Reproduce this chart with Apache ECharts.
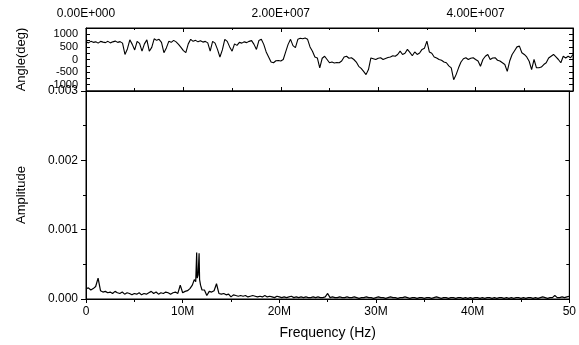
<!DOCTYPE html>
<html>
<head>
<meta charset="utf-8">
<script src="https://cdn.jsdelivr.net/npm/echarts@6/dist/echarts.min.js"></script>
<style>
  html, body { margin: 0; padding: 0; background: #fff; }
  #chart { width: 579px; height: 345px; }
</style>
</head>
<body>
<div id="chart"></div>
<script>
// 频率步长 0.25 MHz, 0 ~ 50 MHz
var freqStepMHz = 0.25;
var freqCount = 201;

// 相位 (deg)，每行 5 MHz
var angleDeg = [
  700, 660, 720, 680, 700, 650, 720, 690, 670, 720, 660, 700, 730, 680, 710, 650, 200, 420, 780, 600,
  380, 720, 640, 330, 620, 780, 330, 480, 820, 760, 800, 680, 270, 460, 720, 680, 760, 700, 600, 480,
  350, 270, 620, 800, 720, 760, 700, 740, 690, 720, 660, 330, 720, 650, 400, 100, 380, 800, 720, 500,
  330, 620, 560, 680, 650, 700, 670, 720, 750, 600, 400, 750, 800, 600, 300, 100, -100, -130, -50, -40,
  -60, 0, 300, 600, 800, 550, 470, 800, 840, 820, 850, 800, 500, 330, 100, 60, -330, 50, 130, 0,
  -130, -100, -140, -120, -130, -60, 100, 130, 50, 70, 0, -100, -270, -350, -470, -600, -400, 60, 30, 0,
  50, 70, 0, 40, 80, 100, 150, 130, 200, 330, 200, 250, 400, 280, 150, 300, 200, 260, 400, 450,
  730, 300, 250, 100, 60, 0, -30, -100, -130, -250, -330, -800, -600, -330, -100, 30, 70, 0, 50, 70,
  0, -60, -270, 0, 130, 200, 0, 60, 70, -30, -60, -130, -200, -470, -60, 200, 350, 500, 530, 270,
  200, 100, -70, -400, 0, -330, -330, -300, -200, -130, 60, 130, 200, 100, 0, -130, 130, 60, 130, 70,
  200
];

// 幅值，每行 5 MHz
var amplitude = [
  0.00015, 0.00016, 0.00013, 0.00015, 0.00018, 0.00030, 0.00012, 0.00010, 0.00011, 0.00009, 0.00010, 0.00008, 0.00011, 0.00009, 0.00008, 0.00010, 0.00007, 0.00009, 0.00008, 0.00006,
  0.00008, 0.00007, 0.00009, 0.00006, 0.00008, 0.00007, 0.00009, 0.00011, 0.00008, 0.00010, 0.00007, 0.00009, 0.00008, 0.00010, 0.00009, 0.00007, 0.00009, 0.00010, 0.00008, 0.00020,
  0.00009, 0.00011, 0.00012, 0.00015, 0.00023, 0.00030, 0.00066, 0.00064, 0.00014, 0.00013, 0.00005, 0.00011, 0.00010, 0.00012, 0.00022, 0.00008, 0.00007, 0.00008, 0.00006, 0.00007,
  0.00003, 0.00006, 0.00005, 0.00004, 0.00005, 0.00004, 0.00005, 0.00003, 0.00004, 0.00005, 0.00004, 0.00003, 0.00004, 0.00003, 0.00005, 0.00003, 0.00004, 0.00003, 0.00002, 0.00004,
  0.00003, 0.00002, 0.00003, 0.00002, 0.00003, 0.00004, 0.00002, 0.00003, 0.00002, 0.00003, 0.00002, 0.00003, 0.00002, 0.00002, 0.00003, 0.00002, 0.00003, 0.00002, 0.00002, 0.00003,
  0.00008, 0.00002, 0.00003, 0.00002, 0.00002, 0.00003, 0.00002, 0.00002, 0.00003, 0.00002, 0.00002, 0.00003, 0.00002, 0.00001, 0.00002, 0.00002, 0.00003, 0.00002, 0.00002, 0.00001,
  0.00002, 0.00003, 0.00002, 0.00002, 0.00001, 0.00002, 0.00003, 0.00002, 0.00002, 0.00001, 0.00002, 0.00002, 0.00003, 0.00002, 0.00001, 0.00002, 0.00002, 0.00001, 0.00002, 0.00002,
  0.00001, 0.00002, 0.00002, 0.00001, 0.00002, 0.00003, 0.00002, 0.00001, 0.00002, 0.00002, 0.00001, 0.00002, 0.00002, 0.00001, 0.00002, 0.00002, 0.00001, 0.00002, 0.00001, 0.00002,
  0.00001, 0.00002, 0.00002, 0.00001, 0.00002, 0.00001, 0.00002, 0.00002, 0.00001, 0.00002, 0.00001, 0.00002, 0.00002, 0.00001, 0.00002, 0.00001, 0.00002, 0.00001, 0.00002, 0.00002,
  0.00001, 0.00002, 0.00001, 0.00002, 0.00002, 0.00001, 0.00002, 0.00001, 0.00002, 0.00003, 0.00002, 0.00001, 0.00002, 0.00002, 0.00005, 0.00002, 0.00002, 0.00003, 0.00002, 0.00003,
  0.00004
];

// 11~12 MHz 处的双峰细节
var peakFreqMHz = [11.0, 11.2, 11.35, 11.45, 11.5, 11.6, 11.7, 11.75, 11.85, 12.0];
var peakAmp = [0.00020, 0.00028, 0.00025, 0.00067, 0.00030, 0.00035, 0.00066, 0.00028, 0.00020, 0.00013];

// 坐标轴刻度
var freqMax = 5e7;
var angleTicks = [-1000, -500, 0, 500, 1000];
var ampTicks = [0, 0.001, 0.002, 0.003];

var angleData = [];
var ampData = [];
for (var i = 0; i < freqCount; i++) {
  var f = i * freqStepMHz;
  angleData.push([f * 1e6, angleDeg[i]]);
  if (f < peakFreqMHz[0] || f > peakFreqMHz[peakFreqMHz.length - 1]) {
    ampData.push([f * 1e6, amplitude[i]]);
  }
}
for (var j = 0; j < peakFreqMHz.length; j++) {
  ampData.push([peakFreqMHz[j] * 1e6, peakAmp[j]]);
}
ampData.sort(function (a, b) { return a[0] - b[0]; });

function sciLabel(v) {
  if (v % 2e7 !== 0) return '';
  var e = v === 0 ? 0 : Math.floor(Math.log10(v));
  var m = v / Math.pow(10, e);
  return m.toFixed(2) + 'E+' + String(e).padStart(3, '0');
}
function freqLabel(v) {
  if (v === 0) return '0';
  if (v === freqMax) return '50';
  return (v / 1e6) + 'M';
}

var txt = { color: '#000', fontFamily: 'Liberation Sans', fontSize: 12 };
var axisLine = { show: true, onZero: false, lineStyle: { color: '#000', width: 1 } };

var myChart = echarts.init(document.getElementById('chart'));

var option = {
  backgroundColor: '#fff',
  animation: false,
  grid: [
    { left: 86, right: 6, top: 28, height: 63, show: true, borderColor: '#000', borderWidth: 1 },
    { left: 86, right: 6, top: 91, height: 211, show: true, borderColor: '#000', borderWidth: 1 }
  ],
  xAxis: [
    {
      gridIndex: 0, type: 'value', position: 'top', min: 0, max: freqMax, interval: 1e7,
      axisLine: axisLine, splitLine: { show: false },
      axisTick: { inside: true, length: 4, lineStyle: { color: '#000' } },
      minorTick: { show: true, splitNumber: 2, length: 2, lineStyle: { color: '#000' } },
      axisLabel: Object.assign({ formatter: sciLabel, margin: 8, showMinLabel: true, showMaxLabel: false }, txt)
    },
    {
      gridIndex: 0, type: 'value', position: 'bottom', min: 0, max: freqMax, interval: 1e7,
      axisLine: axisLine, splitLine: { show: false },
      axisTick: { inside: true, length: 4, lineStyle: { color: '#000' } },
      minorTick: { show: true, splitNumber: 2, length: 3, lineStyle: { color: '#000' } },
      axisLabel: { show: false }
    },
    {
      gridIndex: 1, type: 'value', position: 'bottom', min: 0, max: freqMax, interval: 1e7,
      name: 'Frequency (Hz)', nameLocation: 'middle', nameGap: 27,
      nameTextStyle: { color: '#000', fontFamily: 'Liberation Sans', fontSize: 14 },
      axisLine: axisLine, splitLine: { show: false },
      axisTick: { inside: false, length: 4, lineStyle: { color: '#000' } },
      minorTick: { show: true, splitNumber: 2, length: 3, lineStyle: { color: '#000' } },
      axisLabel: Object.assign({ formatter: freqLabel, margin: 7 }, txt)
    }
  ],
  yAxis: [
    {
      gridIndex: 0, type: 'value', min: -1250, max: 1250, interval: 250,
      name: 'Angle(deg)', nameLocation: 'middle', nameGap: 58,
      nameTextStyle: { color: '#000', fontFamily: 'Liberation Sans', fontSize: 13 },
      axisLine: axisLine, splitLine: { show: false },
      axisTick: { inside: true, length: 4, lineStyle: { color: '#000' } },
      axisLabel: {
        color: '#000', fontFamily: 'Liberation Sans', fontSize: 11, margin: 8,
        showMinLabel: false, showMaxLabel: false,
        formatter: function (v) { return angleTicks.indexOf(v) >= 0 ? String(v) : ''; }
      }
    },
    {
      gridIndex: 0, type: 'value', position: 'right', min: -1250, max: 1250, interval: 250,
      axisLine: axisLine, splitLine: { show: false },
      axisTick: { inside: true, length: 4, lineStyle: { color: '#000' } },
      axisLabel: { show: false }
    },
    {
      gridIndex: 1, type: 'value', min: 0, max: 0.003, interval: 0.001,
      name: 'Amplitude', nameLocation: 'middle', nameGap: 58,
      nameTextStyle: { color: '#000', fontFamily: 'Liberation Sans', fontSize: 13 },
      axisLine: axisLine, splitLine: { show: false },
      axisTick: { inside: false, length: 5, lineStyle: { color: '#000' } },
      minorTick: { show: true, splitNumber: 2, length: 3, lineStyle: { color: '#000' } },
      axisLabel: Object.assign({
        margin: 8,
        formatter: function (v) { return ampTicks.indexOf(+v.toFixed(3)) >= 0 ? v.toFixed(3) : ''; }
      }, txt)
    },
    {
      gridIndex: 1, type: 'value', position: 'right', min: 0, max: 0.003, interval: 0.001,
      axisLine: axisLine, splitLine: { show: false },
      axisTick: { inside: true, length: 4, lineStyle: { color: '#000' } },
      minorTick: { show: true, splitNumber: 2, length: 3, lineStyle: { color: '#000' } },
      axisLabel: { show: false }
    }
  ],
  series: [
    {
      name: 'Angle', type: 'line', xAxisIndex: 0, yAxisIndex: 0,
      data: angleData, showSymbol: false, smooth: false,
      lineStyle: { color: '#000', width: 1.1 }
    },
    {
      name: 'Amplitude', type: 'line', xAxisIndex: 2, yAxisIndex: 2,
      data: ampData, showSymbol: false, smooth: false,
      lineStyle: { color: '#000', width: 1.2 }
    }
  ]
};

myChart.setOption(option);
</script>
</body>
</html>
